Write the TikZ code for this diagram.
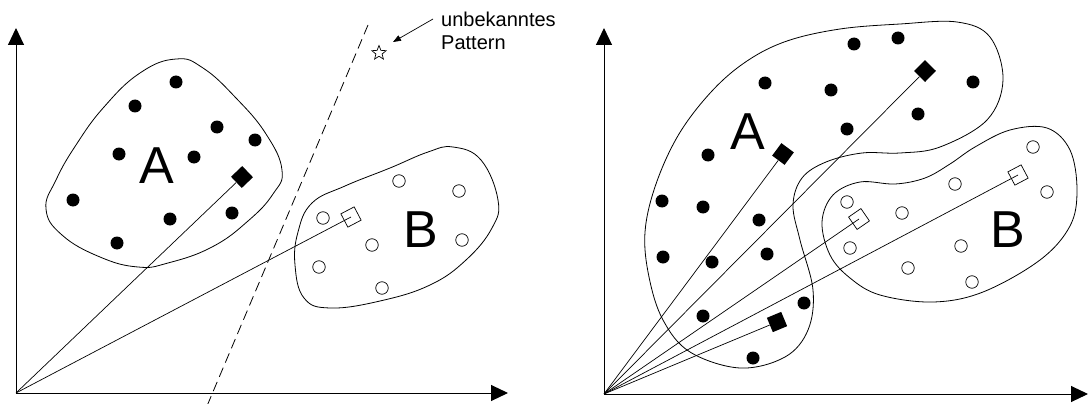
\documentclass[tikz,border=0pt]{standalone}
\usepackage{fontspec}
\setmainfont{Liberation Sans}
\usetikzlibrary{arrows.meta,shapes.geometric}
\tikzset{
  axis/.style={line width=1pt,-{Triangle[length=17pt,width=16pt]}},
  blob/.style={line width=0.8pt},
  conn/.style={line width=0.7pt},
  fdot/.style={circle,fill=black,inner sep=0pt,minimum size=13pt},
  odot/.style={circle,draw=black,line width=0.7pt,inner sep=0pt,minimum size=12.5pt},
  fmark/.style={rectangle,fill=black,inner sep=0pt,minimum size=15.5pt},
  omark/.style={rectangle,draw=black,line width=0.7pt,inner sep=0pt,minimum size=15pt},
  biglabel/.style={font=\fontsize{52}{52}\selectfont,inner sep=0pt},
  smalltext/.style={font=\fontsize{20}{23}\selectfont,inner sep=0pt,align=left},
  sep/.style={line width=0.8pt,dash pattern=on 10pt off 5.5pt},
  pointer/.style={line width=0.7pt,-{Triangle[length=8pt,width=6pt]}}
}
\begin{document}
\begin{tikzpicture}[x=1pt,y=-1pt]
\useasboundingbox (0,0) rectangle (1088,404);
% ---------- left panel ----------
\coordinate (O1) at (16,393);
\coordinate (Y1) at (16,28);
\coordinate (X1) at (508,393);
\draw[axis] (O1) -- (Y1);
\draw[axis] (O1) -- (X1);
% blob A
\draw[blob] plot[smooth cycle,tension=0.75] coordinates {
 (176,59) (203,68) (236,98) (266,134) (282,170) (273,194) (248,221) (212,247) (168,263) (138,267)
 (100,257) (62,235) (46,209) (56,180) (76,145) (104,107) (140,73)};
% blob B
\draw[blob] plot[smooth cycle,tension=0.7] coordinates {
 (453,147) (481,160) (498,200) (492,228) (466,260) (430,285) (380,301) (330,308) (304,298)
 (295,265) (298,232) (312,203) (345,186) (390,168) (428,152)};
% dots A
\foreach \p [count=\i] in {(176,82),(135,106),(217,127),(255,140),(119,154),(194,157),(73,200),(170,219),(232,213),(117,243)}
  \node[fdot] (la\i) at \p {};
% circles B
\foreach \p [count=\i] in {(399,181),(459,191),(323,218),(372,245),(462,240),(319,267),(382,288)}
  \node[odot] (lb\i) at \p {};
\node[fmark,rotate=43.7] (lma) at (242,177) {};
\node[omark,rotate=27.7] (lmb) at (351,217) {};
\draw[conn] (O1) -- (lma);
\draw[conn] (O1) -- (lmb.center);
\node[biglabel] (lA) at (157,166) {A};
\node[biglabel] (lB) at (421,230) {B};
% separating line
\coordinate (d1) at (368,25);
\coordinate (d2) at (207,406);
\draw[sep] (d1) -- (d2);
% unknown pattern
\node[star,star points=5,star point ratio=2.3,draw,line width=0.7pt,inner sep=0pt,minimum size=15pt] (st) at (379,53) {};
\node[smalltext,anchor=north west] (txt) at (441,12) {unbekanntes\\Pattern};
\coordinate (pt) at (393,42);
\draw[pointer] (433,19) -- (pt);
% ---------- right panel ----------
\coordinate (O2) at (604,394);
\coordinate (Y2) at (604,28);
\coordinate (X2) at (1088,394);
\draw[axis] (O2) -- (Y2);
\draw[axis] (O2) -- (X2);
% blob A
\draw[blob] plot[smooth cycle,tension=0.6] coordinates {
 (645,232) (656,184) (679,134) (712,91) (747,61) (787,41) (840,29) (900,24) (957,22) (990,37)
 (1003,80) (987,120) (940,147) (900,153) (862,153) (826,162) (802,178) (793,205) (800,240)
 (813,290) (808,330) (785,357) (740,368) (690,352) (663,320) (649,277)};
% blob B
\draw[blob] plot[smooth cycle,tension=0.6] coordinates {
 (1047,128) (1070,150) (1077,190) (1070,226) (1040,260) (983,292) (933,302) (880,295) (850,278)
 (830,255) (822,222) (833,195) (860,182) (895,184) (925,178) (950,164) (975,147) (1010,130)};
\foreach \p [count=\i] in {(854,44),(898,38),(765,83),(831,90),(973,82),(847,129),(918,114),(708,155),(662,201),(703,207),(759,220),(663,257),(712,262),(767,254),(703,316),(804,303),(753,358)}
  \node[fdot] (ra\i) at \p {};
\foreach \p [count=\i] in {(1033,147),(955,184),(847,202),(902,213),(1047,192),(850,248),(961,246),(908,268),(972,282)}
  \node[odot] (rb\i) at \p {};
\node[fmark,rotate=53.3] (rma1) at (783,154) {};
\node[fmark,rotate=45.2] (rma2) at (925,71) {};
\node[fmark,rotate=22.6] (rma3) at (777,322) {};
\node[omark,rotate=34.5] (rmb1) at (859,219) {};
\node[omark,rotate=27.9] (rmb2) at (1018,175) {};
\draw[conn] (O2) -- (rma1);
\draw[conn] (O2) -- (rma2);
\draw[conn] (O2) -- (rma3);
\draw[conn] (O2) -- (rmb1.center);
\draw[conn] (O2) -- (rmb2.center);
\node[biglabel] (rA) at (748,132) {A};
\node[biglabel] (rB) at (1008,230) {B};
\end{tikzpicture}
\end{document}
